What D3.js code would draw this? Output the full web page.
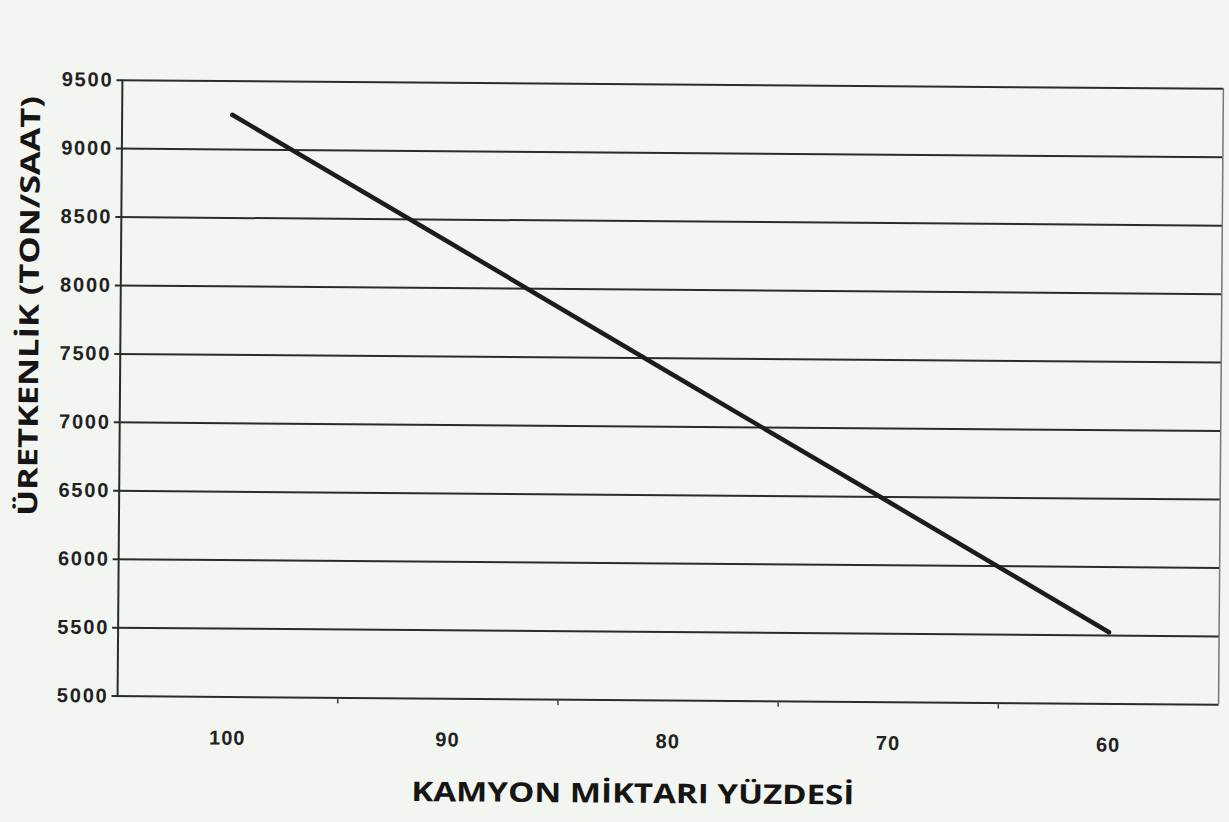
<!DOCTYPE html>
<html>
<head>
<meta charset="utf-8">
<script src="https://cdn.jsdelivr.net/npm/d3@7"></script>
<style>
  html, body { margin: 0; padding: 0; background: #f3f5f1; }
  svg { display: block; }
</style>
</head>
<body>
<svg width="1229" height="822"></svg>
<script>
  // values
  const kamyonYuzdesi = [100, 90, 80, 70, 60];
  const uretkenlik = [9250, 8320, 7385, 6455, 5520];
  const yTicks = [5000, 5500, 6000, 6500, 7000, 7500, 8000, 8500, 9000, 9500];

  const svg = d3.select('svg');
  const width = 1229, height = 822;
  const margin = { top: 84, right: 8, bottom: 122, left: 120 };

  svg.append('rect')
    .attr('width', width)
    .attr('height', height)
    .attr('fill', '#f3f5f1');

  // the scan is slightly tilted
  const g = svg.append('g')
    .attr('transform', 'rotate(0.45, 670, 390)');

  const x = d3.scaleBand()
    .domain(kamyonYuzdesi)
    .range([margin.left, width - margin.right]);

  const y = d3.scaleLinear()
    .domain([5000, 9500])
    .range([height - margin.bottom, margin.top]);

  // horizontal gridlines + left axis
  const yAxis = g.append('g')
    .attr('transform', `translate(${margin.left},0)`)
    .call(d3.axisLeft(y)
      .tickValues(yTicks)
      .tickFormat(d3.format('d'))
      .tickSize(-(width - margin.left - margin.right))
      .tickSizeOuter(0)
      .tickPadding(9));
  yAxis.select('.domain').remove();
  yAxis.selectAll('.tick line')
    .attr('x1', -6)
    .attr('stroke', '#2b2b2b')
    .attr('stroke-width', 2);
  yAxis.selectAll('.tick text')
    .attr('fill', '#222')
    .attr('font-family', 'Liberation Sans, Arial, sans-serif')
    .attr('font-weight', 'bold')
    .attr('font-size', 20)
    .attr('letter-spacing', 1.8);

  // vertical axis line and right border
  g.append('line')
    .attr('x1', margin.left).attr('x2', margin.left)
    .attr('y1', y(9500)).attr('y2', y(5000))
    .attr('stroke', '#2b2b2b')
    .attr('stroke-width', 2);
  g.append('line')
    .attr('x1', width - margin.right).attr('x2', width - margin.right)
    .attr('y1', y(9500)).attr('y2', y(5000))
    .attr('stroke', '#777')
    .attr('stroke-width', 1.5);

  // category axis, ticks between categories
  const xAxis = g.append('g')
    .attr('transform', `translate(0,${y(5000)})`)
    .call(d3.axisBottom(x).tickSize(0).tickPadding(34));
  xAxis.select('.domain').remove();
  xAxis.selectAll('.tick text')
    .attr('fill', '#222')
    .attr('font-family', 'Liberation Sans, Arial, sans-serif')
    .attr('font-weight', 'bold')
    .attr('font-size', 20)
    .attr('letter-spacing', 1);

  xAxis.selectAll('line.sep')
    .data(kamyonYuzdesi.slice(1))
    .enter().append('line')
      .attr('class', 'sep')
      .attr('x1', d => x(d)).attr('x2', d => x(d))
      .attr('y1', 0).attr('y2', 6)
      .attr('stroke', '#444')
      .attr('stroke-width', 1.5);

  // data line
  const line = d3.line()
    .x((d, i) => x(kamyonYuzdesi[i]) + x.bandwidth() / 2)
    .y(d => y(d));

  g.append('path')
    .datum(uretkenlik)
    .attr('d', line)
    .attr('fill', 'none')
    .attr('stroke', '#1c1c1c')
    .attr('stroke-width', 4.5)
    .attr('stroke-linecap', 'round');

  // axis titles
  g.append('text')
    .attr('x', 636)
    .attr('y', 803)
    .attr('text-anchor', 'middle')
    .attr('font-family', 'Open Sans, sans-serif')
    .attr('font-weight', 'bold')
    .attr('font-size', 27)
    .attr('textLength', 443)
    .attr('lengthAdjust', 'spacingAndGlyphs')
    .attr('fill', '#151515')
    .text('KAMYON MİKTARI YÜZDESİ');

  g.append('text')
    .attr('transform', 'translate(38,311) rotate(-90)')
    .attr('text-anchor', 'middle')
    .attr('font-family', 'Open Sans, sans-serif')
    .attr('font-weight', 'bold')
    .attr('font-size', 27)
    .attr('textLength', 420)
    .attr('lengthAdjust', 'spacingAndGlyphs')
    .attr('fill', '#151515')
    .text('ÜRETKENLİK (TON/SAAT)');
</script>
</body>
</html>
